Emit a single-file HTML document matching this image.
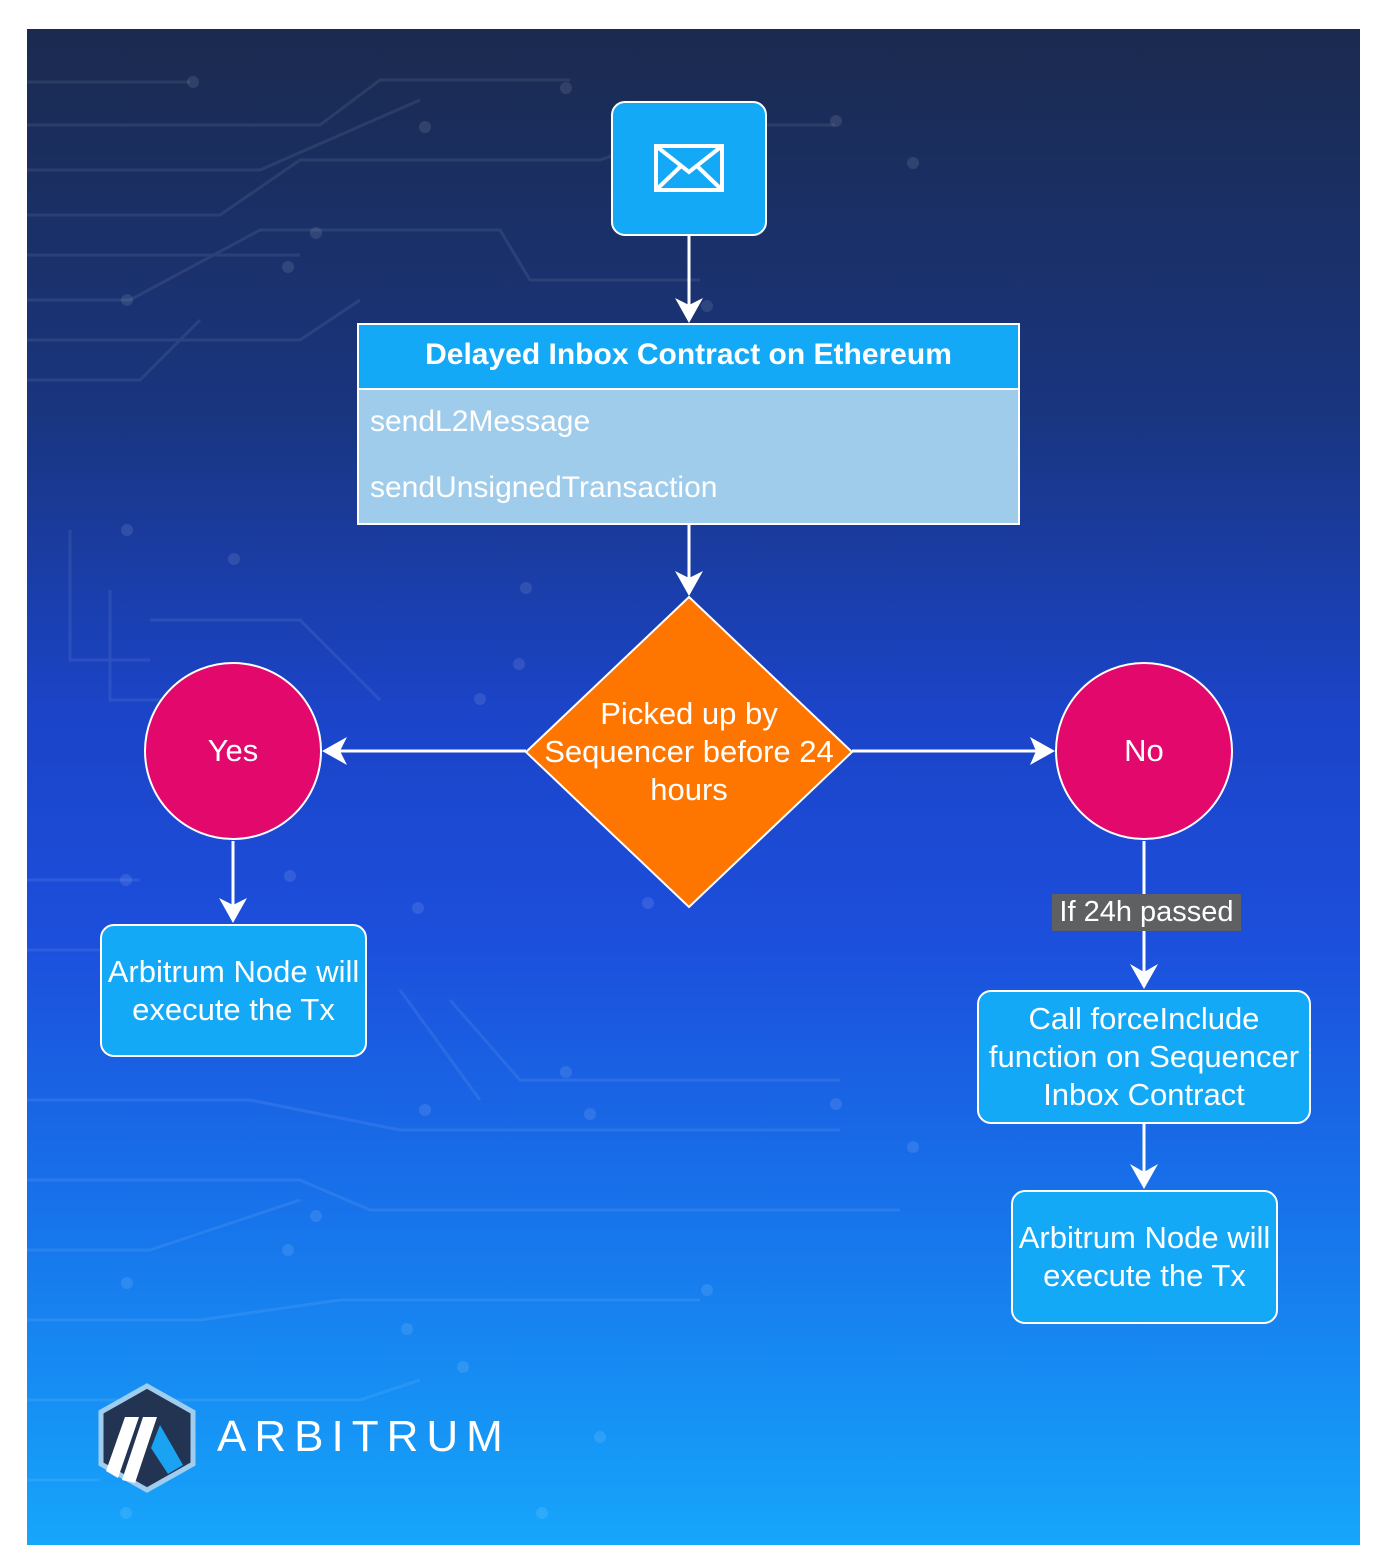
<!DOCTYPE html>
<html><head><meta charset="utf-8"><style>
body{margin:0;width:1386px;height:1562px;background:#fff;position:relative;overflow:hidden;font-family:"Liberation Sans",Arial,sans-serif;}
#bg{position:absolute;left:27px;top:29px;width:1333px;height:1516px;background:linear-gradient(180deg,#1b2a4f 0%,#19357e 25%,#1b44c8 45%,#1c4fdc 60%,#1777ec 80%,#16a6fb 100%);}
.box{position:absolute;box-sizing:border-box;border:2px solid #fff;border-radius:14px;background:#14a9f7;color:#fff;font-size:31px;display:flex;align-items:center;justify-content:center;text-align:center;line-height:38px;white-space:nowrap;}
.t{position:absolute;color:#fff;font-size:31px;white-space:nowrap;}
svg{position:absolute;left:0;top:0;}
</style></head><body>
<div id="bg"></div>
<svg width="1386" height="1562">
<g stroke="#ffffff" stroke-opacity="0.08" stroke-width="3" fill="none">
<path d="M27 82 H190 M27 125 H320 L380 80 H570 M27 170 H260 L420 100 M27 215 H220 L300 160 H600 L700 125 H835 M27 255 H300 M27 300 H130 L260 230 H500 L530 280 H700 M27 340 H300 L360 300 M27 380 H140 L200 320 M70 530 V660 H150 M110 590 V700 H240 M150 620 H300 L380 700 M27 880 H140 M27 950 H230 M400 990 L480 1100 M450 1000 L520 1080 H840 M27 1100 H250 L400 1130 H840 M27 1180 H300 L370 1210 H900 M27 1250 H150 L300 1200 M27 1320 H200 L340 1300 H700 M27 1400 H360 L420 1380 M27 1480 H100"/>
</g>
<g fill="#ffffff" fill-opacity="0.1">
<circle cx="193" cy="82" r="6"/><circle cx="425" cy="127" r="6"/><circle cx="566" cy="88" r="6"/><circle cx="836" cy="121" r="6"/><circle cx="913" cy="163" r="6"/><circle cx="316" cy="233" r="6"/><circle cx="288" cy="267" r="6"/><circle cx="127" cy="300" r="6"/><circle cx="707" cy="306" r="6"/><circle cx="127" cy="530" r="6"/><circle cx="234" cy="559" r="6"/><circle cx="526" cy="588" r="6"/><circle cx="519" cy="664" r="6"/><circle cx="480" cy="699" r="6"/><circle cx="126" cy="880" r="6"/><circle cx="290" cy="876" r="6"/><circle cx="418" cy="908" r="6"/><circle cx="648" cy="903" r="6"/><circle cx="425" cy="1110" r="6"/><circle cx="566" cy="1072" r="6"/><circle cx="590" cy="1114" r="6"/><circle cx="836" cy="1104" r="6"/><circle cx="913" cy="1147" r="6"/><circle cx="316" cy="1216" r="6"/><circle cx="288" cy="1250" r="6"/><circle cx="127" cy="1283" r="6"/><circle cx="707" cy="1290" r="6"/><circle cx="407" cy="1329" r="6"/><circle cx="463" cy="1367" r="6"/><circle cx="600" cy="1437" r="6"/><circle cx="126" cy="1513" r="6"/><circle cx="542" cy="1513" r="6"/>
</g>
<g stroke="#fff" stroke-width="3" fill="none">
<path d="M689 236 V305 M689 524 V578 M526 751 H340 M852 751 H1036 M233 841 V905 M1144 841 V894 M1144 931 V972 M1144 1124 V1172"/>
</g>
<g fill="#fff">
<path d="M675 298 L689 323 L703 298 L689 305Z"/>
<path d="M675 571 L689 596 L703 571 L689 578Z"/>
<path d="M347 737 L322 751 L347 765 L340 751Z"/>
<path d="M1030 737 L1055 751 L1030 765 L1036 751Z"/>
<path d="M219 898 L233 923 L247 898 L233 905Z"/>
<path d="M1130 964 L1144 989 L1158 964 L1144 972Z"/>
<path d="M1130 1164 L1144 1189 L1158 1164 L1144 1172Z"/>
</g>
<polygon points="689,597 852,752 689,907 526,752" fill="#fe7600" stroke="#fff" stroke-width="2"/>
<circle cx="233" cy="751" r="88" fill="#e3086c" stroke="#fff" stroke-width="2"/>
<circle cx="1144" cy="751" r="88" fill="#e3086c" stroke="#fff" stroke-width="2"/>
<rect x="358" y="324" width="661" height="200" fill="#a0cceb" stroke="#fff" stroke-width="2"/>
<rect x="358" y="324" width="661" height="65" fill="#14a9f7" stroke="#fff" stroke-width="2"/>
<polygon points="147,1386 193,1412 193,1464 147,1490 101,1464 101,1412" fill="#233352" stroke="#9fcdf0" stroke-width="5"/>
<path d="M125 1417 L139 1417 L118 1478 L106 1471Z M143 1417 L157 1417 L135 1483 L122 1480Z" fill="#fff"/>
<path d="M160 1425 L183 1465 L168 1474 L151 1448Z" fill="#1aa3f3"/>
</svg>
<div class="box" style="left:611px;top:101px;width:156px;height:135px;">
<svg width="70" height="50" style="position:relative" viewBox="0 0 70 50"><rect x="2" y="2" width="66" height="44" fill="none" stroke="#fff" stroke-width="4"/><path d="M2 2 L35 28 L68 2 M2 46 L27 22 M68 46 L43 22" fill="none" stroke="#fff" stroke-width="4"/></svg>
</div>
<div class="t" style="left:358px;width:661px;top:338px;text-align:center;font-weight:bold;font-size:30px;">Delayed Inbox Contract on Ethereum</div>
<div class="t" style="left:370px;top:405px;font-size:30px;">sendL2Message</div>
<div class="t" style="left:370px;top:471px;font-size:30px;">sendUnsignedTransaction</div>
<div class="t" style="left:506px;width:366px;top:695px;text-align:center;line-height:38px;">Picked up by<br>Sequencer before 24<br>hours</div>
<div class="t" style="left:145px;width:176px;top:733px;text-align:center;">Yes</div>
<div class="t" style="left:1056px;width:176px;top:733px;text-align:center;">No</div>
<div class="box" style="left:100px;top:924px;width:267px;height:133px;">Arbitrum Node will<br>execute the Tx</div>
<div class="t" style="left:1052px;top:894px;width:189px;height:37px;background:#5f6061;text-align:center;line-height:37px;font-size:29px;">If 24h passed</div>
<div class="box" style="left:977px;top:990px;width:334px;height:134px;">Call forceInclude<br>function on Sequencer<br>Inbox Contract</div>
<div class="box" style="left:1011px;top:1190px;width:267px;height:134px;">Arbitrum Node will<br>execute the Tx</div>
<div class="t" style="left:217px;top:1412px;font-size:44px;letter-spacing:8px;">ARBITRUM</div>
</body></html>
